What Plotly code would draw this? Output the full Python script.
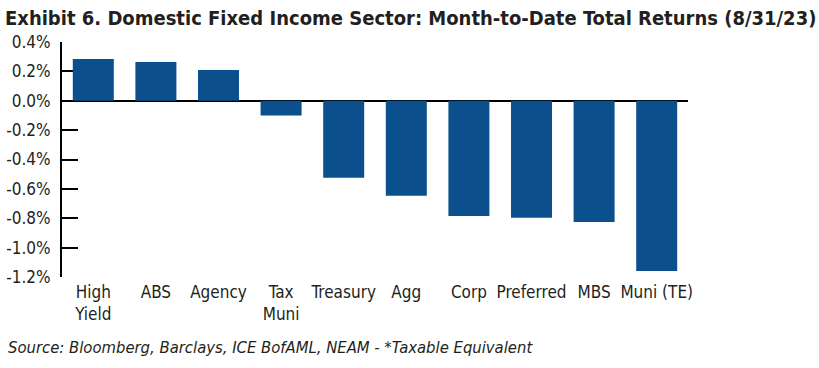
import plotly.graph_objects as go

categories = ["High<br>Yield", "ABS", "Agency", "Tax<br>Muni", "Treasury", "Agg",
              "Corp", "Preferred", "MBS", "Muni (TE)"]
returns_pct = [0.284, 0.264, 0.209, -0.10, -0.525, -0.647, -0.784, -0.797, -0.825, -1.159]
y_ticks = [0.4, 0.2, 0.0, -0.2, -0.4, -0.6, -0.8, -1.0, -1.2]
y_tick_labels = ["0.4%", "0.2%", "0.0%", "-0.2%", "-0.4%", "-0.6%", "-0.8%", "-1.0%", "-1.2%"]

TEXT = "#231f20"
BAR = "#0b4f8c"
FONT = "DejaVu Sans Condensed, Liberation Sans Narrow, Roboto, sans-serif"

fig = go.Figure(go.Bar(x=categories, y=returns_pct, marker=dict(color=BAR, line=dict(width=0)),
                       width=0.655, hoverinfo="skip"))

fig.update_layout(
    width=819, height=368,
    margin=dict(l=62, r=131, t=42, b=91, autoexpand=False),
    paper_bgcolor="white", plot_bgcolor="white",
    font=dict(family=FONT, color=TEXT, size=17),
    showlegend=False,
    bargap=0.345,
    xaxis=dict(showline=False, showgrid=False, ticks="", tickfont=dict(size=17, color=TEXT),
               zeroline=False, fixedrange=True, automargin=False, ticklabelstandoff=3),
    yaxis=dict(range=[-1.2, 0.4], tickvals=y_ticks, ticktext=y_tick_labels,
               showgrid=False, showline=True, linecolor="black", linewidth=2,
               ticks="inside", ticklen=16, tickwidth=2, tickcolor="black",
               zeroline=True, zerolinecolor="black", zerolinewidth=2, automargin=False,
               ticklabelstandoff=6,
               tickfont=dict(size=17, color=TEXT), layer="below traces", fixedrange=True),
    annotations=[
        dict(text="<b>Exhibit 6. Domestic Fixed Income Sector: Month-to-Date Total Returns (8/31/23)</b>",
             xref="paper", yref="paper", x=-59/626, y=1 + 24/235, xanchor="left", yanchor="middle",
             showarrow=False, font=dict(size=20, color=TEXT, family=FONT)),
        dict(text="<i>Source: Bloomberg, Barclays, ICE BofAML, NEAM - *Taxable Equivalent</i>",
             xref="paper", yref="paper", x=-56/626, y=-70/235, xanchor="left", yanchor="middle",
             showarrow=False, font=dict(size=16.5, color=TEXT, family=FONT)),
    ],
)

fig.write_html("out.html", config={"displayModeBar": False},
               post_script="document.body.style.margin='0';")
